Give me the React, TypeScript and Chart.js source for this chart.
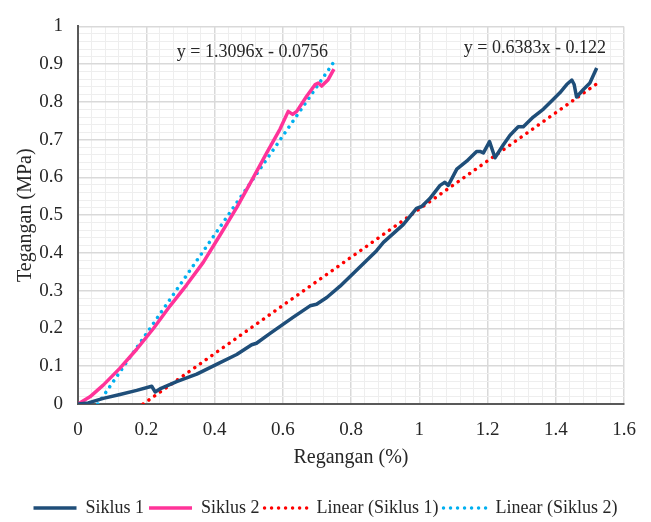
import React, { useEffect, useRef } from 'react';
import { Chart, registerables } from 'chart.js';

Chart.register(...registerables);

// ---- Data ----
const SIKLUS1_X = [0, 0.03, 0.074, 0.123, 0.172, 0.216, 0.226, 0.24, 0.289, 0.348, 0.406, 0.465, 0.509, 0.523, 0.563, 0.631, 0.68, 0.699, 0.729, 0.768, 0.817, 0.875, 0.895, 0.953, 0.992, 1.007, 1.031, 1.061, 1.075, 1.085, 1.11, 1.139, 1.168, 1.178, 1.188, 1.206, 1.222, 1.246, 1.266, 1.29, 1.305, 1.334, 1.364, 1.393, 1.412, 1.432, 1.447, 1.454, 1.461, 1.481, 1.5, 1.52];
const SIKLUS1_Y = [0, 0.003, 0.015, 0.025, 0.036, 0.047, 0.032, 0.04, 0.059, 0.079, 0.105, 0.131, 0.157, 0.161, 0.187, 0.23, 0.26, 0.264, 0.282, 0.312, 0.355, 0.406, 0.428, 0.475, 0.518, 0.523, 0.544, 0.579, 0.587, 0.579, 0.622, 0.643, 0.669, 0.669, 0.665, 0.695, 0.652, 0.686, 0.712, 0.734, 0.734, 0.76, 0.781, 0.807, 0.824, 0.846, 0.858, 0.846, 0.813, 0.833, 0.85, 0.89];

const SIKLUS2_X = [0, 0.035, 0.074, 0.123, 0.172, 0.221, 0.27, 0.318, 0.367, 0.416, 0.465, 0.514, 0.553, 0.592, 0.616, 0.629, 0.641, 0.67, 0.695, 0.704, 0.714, 0.733, 0.75];
const SIKLUS2_Y = [0, 0.019, 0.05, 0.095, 0.145, 0.2, 0.26, 0.315, 0.375, 0.447, 0.52, 0.6, 0.665, 0.728, 0.775, 0.767, 0.775, 0.815, 0.846, 0.85, 0.842, 0.859, 0.887];

const LINEAR1_X = [0.191, 1.52];
const LINEAR1_Y = [0, 0.848];
const LINEAR2_X = [0.058, 0.75];
const LINEAR2_Y = [0, 0.906];

const SERIES_NAMES = ['Siklus 1', 'Siklus 2', 'Linear (Siklus 1)', 'Linear (Siklus 2)'];
const EQUATION_TEXTS = ['y = 1.3096x - 0.0756', 'y = 0.6383x - 0.122'];
const EQUATION_ANCHORS = [[0.511, 0.932], [1.339, 0.943]];

const X_MIN = 0, X_MAX = 1.6, X_MAJOR = 0.2, X_MINOR = 0.04;
const Y_MIN = 0, Y_MAX = 1, Y_MAJOR = 0.1, Y_MINOR = 0.02;

const FONT = '"Liberation Serif", "Times New Roman", serif';
const TEXT_COLOR = '#262626';

const zip = (xs: number[], ys: number[]) => xs.map((x, i) => ({ x, y: ys[i] }));
const isMajor = (v: number, step: number) => Math.abs(v / step - Math.round(v / step)) < 1e-6;
const fmt = (v: number) => String(Math.round(v * 10) / 10);

const equationPlugin = {
  id: 'equations',
  afterDatasetsDraw(chart: any) {
    const { ctx, scales } = chart;
    ctx.save();
    ctx.font = `18px ${FONT}`;
    ctx.fillStyle = TEXT_COLOR;
    ctx.textAlign = 'center';
    ctx.textBaseline = 'middle';
    EQUATION_TEXTS.forEach((t, i) => {
      const [ax, ay] = EQUATION_ANCHORS[i];
      ctx.fillText(t, scales.x.getPixelForValue(ax), scales.y.getPixelForValue(ay));
    });
    ctx.restore();
  },
};

export default function App() {
  const canvasRef = useRef<HTMLCanvasElement | null>(null);

  useEffect(() => {
    document.body.style.margin = '0';
    const canvas = canvasRef.current;
    if (!canvas) return;

    const gridColor = (step: number) => (c: any) =>
      c.tick && isMajor(c.tick.value, step) ? '#d9d9d9' : '#eeeeee';
    const gridWidth = (step: number) => (c: any) =>
      c.tick && isMajor(c.tick.value, step) ? 1.5 : 1;

    const chart = new Chart(canvas, {
      type: 'scatter',
      data: {
        datasets: [
          {
            label: SERIES_NAMES[0],
            data: zip(SIKLUS1_X, SIKLUS1_Y),
            borderColor: '#1F4E79',
            backgroundColor: '#1F4E79',
            borderWidth: 3.5,
            showLine: true,
            pointRadius: 0,
            borderJoinStyle: 'round',
            borderCapStyle: 'butt',
          },
          {
            label: SERIES_NAMES[1],
            data: zip(SIKLUS2_X, SIKLUS2_Y),
            borderColor: '#FF3399',
            backgroundColor: '#FF3399',
            borderWidth: 3.5,
            showLine: true,
            pointRadius: 0,
            borderJoinStyle: 'round',
            borderCapStyle: 'butt',
          },
          {
            label: SERIES_NAMES[2],
            data: zip(LINEAR1_X, LINEAR1_Y),
            borderColor: '#FF0000',
            backgroundColor: 'transparent',
            borderWidth: 3.5,
            borderDash: [0.01, 7],
            borderCapStyle: 'round',
            showLine: true,
            pointRadius: 0,
          },
          {
            label: SERIES_NAMES[3],
            data: zip(LINEAR2_X, LINEAR2_Y),
            borderColor: '#00B0F0',
            backgroundColor: 'transparent',
            borderWidth: 3.5,
            borderDash: [0.01, 7],
            borderCapStyle: 'round',
            showLine: true,
            pointRadius: 0,
          },
        ],
      } as any,
      options: {
        animation: false,
        responsive: false,
        devicePixelRatio: 1,
        color: TEXT_COLOR,
        layout: { padding: { top: 17, right: 0, left: 0, bottom: 0 } },
        plugins: {
          tooltip: { enabled: false },
          legend: {
            position: 'bottom',
            maxHeight: 28,
            labels: {
              usePointStyle: true,
              pointStyle: 'line',
              pointStyleWidth: 43,
              padding: 5,
              color: TEXT_COLOR,
              font: { family: FONT, size: 18 },
              generateLabels: (ch: any) => {
                const items = (Chart.defaults as any).plugins.legend.labels.generateLabels(ch);
                items.forEach((it: any) => {
                  const ds: any = ch.data.datasets[it.datasetIndex];
                  it.pointStyle = 'line';
                  it.lineDash = ds.borderDash || [];
                  it.lineCap = ds.borderCapStyle || 'butt';
                  it.lineWidth = ds.borderWidth;
                  it.strokeStyle = ds.borderColor;
                  it.fillStyle = ds.borderColor;
                });
                return items;
              },
            },
          },
        },
        scales: {
          x: {
            type: 'linear',
            min: X_MIN,
            max: X_MAX,
            afterFit: (s: any) => { s.height = 90; },
            ticks: {
              stepSize: X_MINOR,
              autoSkip: false,
              maxRotation: 0,
              minRotation: 0,
              padding: 15,
              color: TEXT_COLOR,
              font: { family: FONT, size: 19 },
              callback: (v: any) => (isMajor(Number(v), X_MAJOR) ? fmt(Number(v)) : ''),
            },
            grid: { color: gridColor(X_MAJOR), lineWidth: gridWidth(X_MAJOR), drawTicks: false },
            border: { color: '#595959', width: 2 },
            title: {
              display: true,
              text: 'Regangan (%)',
              color: TEXT_COLOR,
              font: { family: FONT, size: 20 },
              padding: { top: 0, bottom: 24 },
            },
          },
          y: {
            type: 'linear',
            min: Y_MIN,
            max: Y_MAX,
            afterFit: (s: any) => { s.width = 78; },
            ticks: {
              stepSize: Y_MINOR,
              autoSkip: false,
              padding: 15,
              color: TEXT_COLOR,
              font: { family: FONT, size: 19 },
              callback: (v: any) => (isMajor(Number(v), Y_MAJOR) ? fmt(Number(v)) : ''),
            },
            grid: { color: gridColor(Y_MAJOR), lineWidth: gridWidth(Y_MAJOR), drawTicks: false },
            border: { color: '#595959', width: 2 },
            title: {
              display: true,
              text: 'Tegangan (MPa)',
              color: TEXT_COLOR,
              font: { family: FONT, size: 20 },
              padding: { top: 14, bottom: 0 },
            },
          },
          spacer: {
            type: 'linear',
            position: 'right',
            display: true,
            min: 0,
            max: 1,
            afterFit: (s: any) => { s.width = 27; },
            grid: { display: false, drawTicks: false },
            border: { display: false },
            ticks: { display: false },
          },
        },
      } as any,
      plugins: [equationPlugin],
    });

    return () => chart.destroy();
  }, []);

  return (
    <div style={{ width: 651, height: 522 }}>
      <canvas ref={canvasRef} width={651} height={522} style={{ display: 'block' }} />
    </div>
  );
}
